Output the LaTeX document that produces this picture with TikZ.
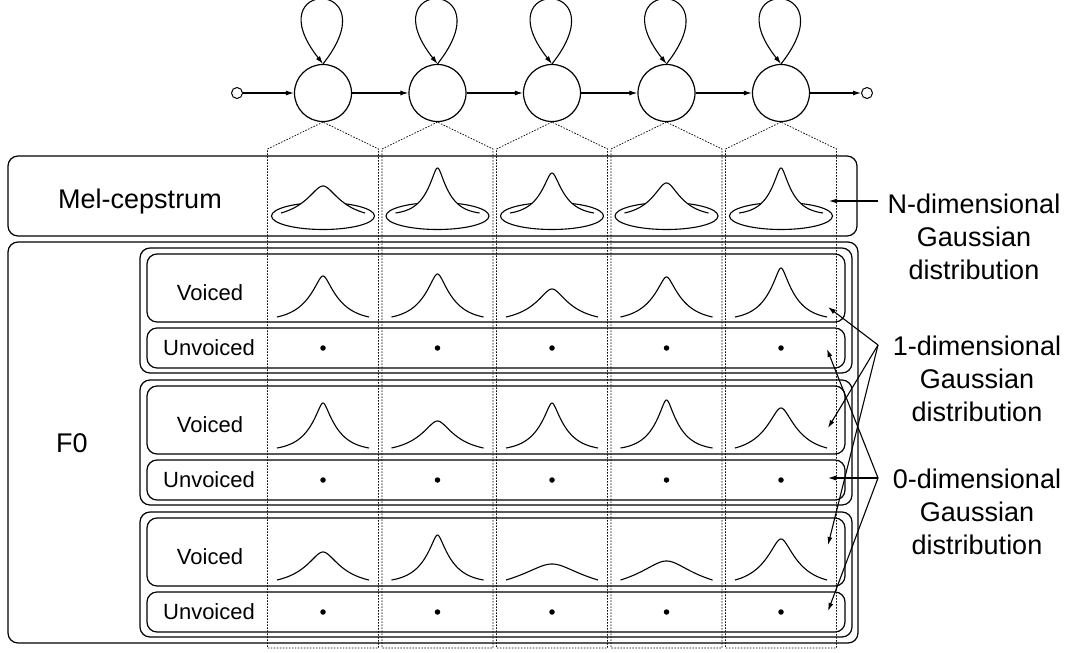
\documentclass[tikz,border=0pt]{standalone}
\usepackage{fontspec}
\setmainfont{Liberation Sans}
\usetikzlibrary{arrows.meta}
% smoothed Laplacian bump: cx, base, h, a, c, span
\newcommand{\bellpath}[6]{%
  plot[domain=-#6:#6, samples=121, variable=\t, smooth]
    ({#1+\t},{#2-#3*(exp(-(sqrt(\t*\t+#5*#5)-#5)/#4)-\tailv)/(1-\tailv)})}
\newcommand{\gbell}[6]{%
  \pgfmathsetmacro{\tailv}{exp(-(sqrt(#6*#6+#5*#5)-#5)/#4)}%
  \draw[curve] \bellpath{#1}{#2}{#3}{#4}{#5}{#6};%
}
\newcommand{\mbell}[6]{%
  \pgfmathsetmacro{\tailv}{exp(-(sqrt(#6*#6+#5*#5)-#5)/#4)}%
  \fill[white] \bellpath{#1}{#2}{#3}{#4}{#5}{#6} -- cycle;%
  \draw[curve] \bellpath{#1}{#2}{#3}{#4}{#5}{#6};%
}
\begin{document}
\begin{tikzpicture}[x=1pt,y=-1pt,
  box/.style={line width=1.2pt, rounded corners=10pt},
  colline/.style={line width=0.7pt, dash pattern=on 1.6pt off 1.4pt},
  state/.style={circle, draw, line width=1.2pt, minimum size=57pt, inner sep=0pt},
  term/.style={circle, draw, line width=1pt, minimum size=11pt, inner sep=0pt},
  arr/.style={line width=1.1pt, -{Latex[length=8pt,width=5pt]}},
  curve/.style={line width=1.1pt},
  dotn/.style={circle, fill, inner sep=0pt, minimum size=5.5pt},
  big/.style={font=\fontsize{27}{33}\selectfont, inner sep=0pt},
  small/.style={font=\fontsize{22}{26}\selectfont, inner sep=0pt},
]
\useasboundingbox (0,0) rectangle (1076,653);

% HMM states
\node[term] (st) at (237,93) {};
\node[term] (en) at (867,93) {};
\foreach \i/\cx in {1/323,2/437.5,3/552,4/666.5,5/781}{
  \node[state] (s\i) at (\cx,93) {};
  \draw[arr] (s\i.north) .. controls +(68,-86) and +(-68,-86) .. (s\i.north);
}
\draw[arr] (st) -- (s1);
\draw[arr] (s1) -- (s2);
\draw[arr] (s2) -- (s3);
\draw[arr] (s3) -- (s4);
\draw[arr] (s4) -- (s5);
\draw[arr] (s5) -- (en);

% boxes
\draw[box] (8,156) rectangle (857,236);
\draw[box] (8,242) rectangle (858,643);
\foreach \k in {0,1,2}{
  \draw[box] (140,248+132*\k) rectangle (852,373+132*\k);
  \draw[box] (147,254+132*\k) rectangle (845,322+132*\k);
  \draw[box] (147,328+132*\k) rectangle (845,368+132*\k);
  \node[small, anchor=base] (v\k) at (210,300+132*\k) {Voiced};
  \node[small, anchor=base] (u\k) at (209,355+132*\k) {Unvoiced};
}
\node[big, anchor=base] (mel) at (140,208) {Mel-cepstrum};
\node[big] (f0) at (72,443) {F0};

% columns (dashed)
\foreach \i/\cx in {1/323,2/437.5,3/552,4/666.5,5/781}{
  \draw[colline] (s\i.south) -- (\cx-55.5,149) -- (\cx-55.5,648) -- (\cx+55.5,648) -- (\cx+55.5,149) -- cycle;
}

% mel-cepstrum N-dim gaussians
\foreach \cx/\h/\a/\c in {323/27/20/8,437.5/45/12/3,552/40/13/4,666.5/30/16/7,781/45/12/3}{
  \draw[curve] (\cx,216) ellipse [x radius=51.5, y radius=13.5];
  \mbell{\cx}{213}{\h}{\a}{\c}{42}
}

% voiced 1-dim gaussians
\foreach \cx/\h/\a/\c in {323/41/17/4,437.5/43/16/4,552/28/20/7,666.5/40/17/4,781/49/15/3}{
  \gbell{\cx}{317}{\h}{\a}{\c}{46}
}
\foreach \cx/\h/\a/\c in {323/45/15/3,437.5/27/20/7,552/45/15/3,666.5/48/14/3,781/40/18/6}{
  \gbell{\cx}{448}{\h}{\a}{\c}{46}
}
\foreach \cx/\h/\a/\c in {323/28/20/8,437.5/45/15/3,552/16/40/16,666.5/19/34/14,781/41/18/6}{
  \gbell{\cx}{580}{\h}{\a}{\c}{46}
}

% unvoiced dots
\foreach \k in {0,1,2}{
  \foreach \i/\cx in {1/323,2/437.5,3/552,4/666.5,5/781}{
    \node[dotn] (d\k\i) at (\cx,348+132*\k) {};
  }
}

% right labels
\node[big, anchor=base] (nl1) at (974,213) {N-dimensional};
\node[big, anchor=base] (nl2) at (974,246) {Gaussian};
\node[big, anchor=base] (nl3) at (974,279) {distribution};
\node[big, anchor=base] (ol1) at (977,355) {1-dimensional};
\node[big, anchor=base] (ol2) at (977,388) {Gaussian};
\node[big, anchor=base] (ol3) at (977,421) {distribution};
\node[big, anchor=base] (zl1) at (977,488) {0-dimensional};
\node[big, anchor=base] (zl2) at (977,521) {Gaussian};
\node[big, anchor=base] (zl3) at (977,554) {distribution};

\coordinate (nsrc) at (878,201);
\coordinate (osrc) at (878,345);
\coordinate (zsrc) at (878,478);
\coordinate (mt) at (829,201);
\coordinate (vt0) at (828,307);
\coordinate (vt1) at (828,428);
\coordinate (vt2) at (828,545);
\coordinate (ut0) at (827,349);
\coordinate (ut1) at (828,478);
\coordinate (ut2) at (828,611);
\draw[arr] (nsrc) -- (mt);
\foreach \t in {vt0,vt1,vt2}{\draw[arr] (osrc) -- (\t);}
\foreach \t in {ut0,ut1,ut2}{\draw[arr] (zsrc) -- (\t);}
\end{tikzpicture}
\end{document}
